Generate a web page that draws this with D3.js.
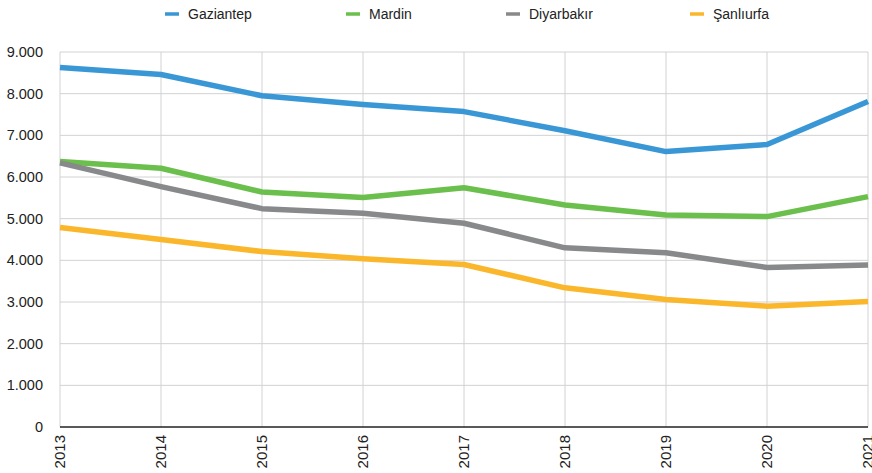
<!DOCTYPE html>
<html>
<head>
<meta charset="utf-8">
<script src="https://cdn.jsdelivr.net/npm/d3@7"></script>
<style>
  html, body { margin: 0; padding: 0; background: #fff; }
  svg { display: block; font-family: "Liberation Sans", Arial, Helvetica, sans-serif; }
</style>
</head>
<body>
<svg id="chart" width="872" height="473"></svg>
<script>
// Years on the x axis
const years = [2013, 2014, 2015, 2016, 2017, 2018, 2019, 2020, 2021];

// Series values per province
const gaziantep = [8630, 8460, 7950, 7740, 7570, 7110, 6610, 6780, 7810];
const mardin    = [6370, 6210, 5640, 5510, 5740, 5330, 5090, 5050, 5530];
const diyarbakir = [6340, 5770, 5240, 5130, 4890, 4300, 4180, 3830, 3890];
const sanliurfa = [4790, 4500, 4210, 4040, 3900, 3340, 3060, 2900, 3010];

const seriesNames = ["Gaziantep", "Mardin", "Diyarbakır", "Şanlıurfa"];
const seriesColors = ["#3a97d5", "#6bbf4c", "#88898b", "#fbb72b"];
const seriesValues = [gaziantep, mardin, diyarbakir, sanliurfa];

// Y-axis ticks
const yTicks = [0, 1000, 2000, 3000, 4000, 5000, 6000, 7000, 8000, 9000];

const svg = d3.select("#chart");
const margin = { left: 60, right: 4, top: 52, bottom: 46 };
const W = 872, H = 473;

const x = d3.scalePoint().domain(years).range([margin.left, W - margin.right]);
const y = d3.scaleLinear().domain([0, 9000]).range([H - margin.bottom, margin.top]);

const fmt = v => d3.format(",")(v).replace(/,/g, ".");

// Horizontal grid lines
svg.append("g")
  .selectAll("line")
  .data(yTicks.filter(d => d > 0))
  .join("line")
  .attr("x1", x(years[0])).attr("x2", x(years[years.length - 1]))
  .attr("y1", d => y(d)).attr("y2", d => y(d))
  .attr("stroke", "#d2d2d2").attr("stroke-width", 1);

// Vertical grid lines
svg.append("g")
  .selectAll("line")
  .data(years)
  .join("line")
  .attr("x1", d => x(d)).attr("x2", d => x(d))
  .attr("y1", y(9000)).attr("y2", y(0))
  .attr("stroke", "#d2d2d2").attr("stroke-width", 1);

// Y-axis labels
svg.append("g")
  .selectAll("text")
  .data(yTicks)
  .join("text")
  .attr("x", 43)
  .attr("y", d => y(d))
  .attr("dy", "0.35em")
  .attr("text-anchor", "end")
  .attr("font-size", 14.5)
  .attr("fill", "#222")
  .text(d => fmt(d));

// X-axis labels (rotated)
svg.append("g")
  .selectAll("text")
  .data(years)
  .join("text")
  .attr("transform", d => `translate(${x(d)},${y(0) + 8}) rotate(-90)`)
  .attr("text-anchor", "end")
  .attr("dy", "0.35em")
  .attr("font-size", 15)
  .attr("fill", "#222")
  .text(d => d);

// Lines
const line = d3.line()
  .x((d, i) => x(years[i]))
  .y(d => y(d));

svg.append("g")
  .selectAll("path")
  .data(seriesValues)
  .join("path")
  .attr("d", d => line(d))
  .attr("fill", "none")
  .attr("stroke", (d, i) => seriesColors[i])
  .attr("stroke-width", 5.5)
  .attr("stroke-linejoin", "round")
  .attr("stroke-linecap", "butt");

// Baseline
svg.append("line")
  .attr("x1", x(years[0])).attr("x2", x(years[years.length - 1]))
  .attr("y1", y(0)).attr("y2", y(0))
  .attr("stroke", "#222").attr("stroke-width", 1.5);

// Legend
const legendX = [165, 346, 506, 690];
const legend = svg.append("g")
  .selectAll("g")
  .data(seriesNames)
  .join("g")
  .attr("transform", (d, i) => `translate(${legendX[i]},14)`);
legend.append("line")
  .attr("x1", 0).attr("x2", 14)
  .attr("y1", 0).attr("y2", 0)
  .attr("stroke", (d, i) => seriesColors[i])
  .attr("stroke-width", 3.5);
legend.append("text")
  .attr("x", 23)
  .attr("dy", "0.35em")
  .attr("font-size", 14)
  .attr("fill", "#222")
  .text(d => d);
</script>
</body>
</html>
